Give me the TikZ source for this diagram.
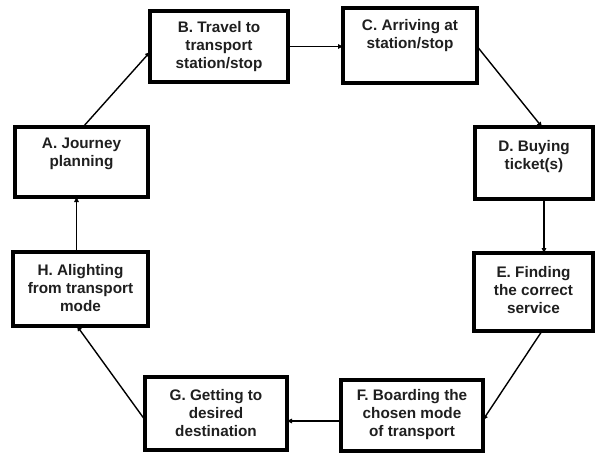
\documentclass[tikz,border=0pt]{standalone}
\usepackage{fontspec}
\setmainfont{Liberation Sans}
\usetikzlibrary{arrows.meta,calc}
\begin{document}
\begin{tikzpicture}[x=1pt,y=-1pt,
  stagebox/.style={draw=black,line width=3.4pt,rectangle,inner sep=0pt,outer sep=0pt},
  stagetext/.style={align=center,text=black!88,font=\fontsize{15.3}{18}\selectfont\bfseries,inner sep=0pt},
  conn/.style={line width=1.4pt,-{Triangle[length=5pt,width=4.5pt]}}]
\useasboundingbox (0,0) rectangle (597,453);
% boxes
\node[stagebox,minimum width=133pt,minimum height=70pt] (A) at (81.5,162) {};
\node[stagebox,minimum width=138pt,minimum height=71pt] (B) at (219,46.5) {};
\node[stagebox,minimum width=134pt,minimum height=75pt] (C) at (410,45.5) {};
\node[stagebox,minimum width=118pt,minimum height=72pt] (D) at (534,163) {};
\node[stagebox,minimum width=119pt,minimum height=78pt] (E) at (533.5,292) {};
\node[stagebox,minimum width=142pt,minimum height=71pt] (F) at (412,415.5) {};
\node[stagebox,minimum width=142pt,minimum height=73pt] (G) at (216,413.5) {};
\node[stagebox,minimum width=135pt,minimum height=74pt] (H) at (80.5,289) {};
% texts
\node[stagetext] (tA) at (81.5,154) {A. Journey\\planning};
\node[stagetext] (tB) at (219,46.5) {B. Travel to\\transport\\station/stop};
\node[stagetext] (tC) at (410,36) {C. Arriving at\\station/stop};
\node[stagetext] (tD) at (534,157) {D. Buying\\ticket(s)};
\node[stagetext] (tE) at (533.5,290) {E. Finding\\the correct\\service};
\node[stagetext] (tF) at (412,415) {F. Boarding the\\chosen mode\\of transport};
\node[stagetext] (tG) at (216,413.5) {G. Getting to\\desired\\destination};
\node[stagetext] (tH) at (80.5,288.5) {H. Alighting\\from transport\\mode};
% connectors
\coordinate (a1) at ([xshift=1.5pt]A.north);
\coordinate (b1) at ([yshift=-5.5pt]B.west);
\draw[conn] (a1) -- (b1);
\draw[conn] (B.east) -- (B.east -| C.west);
\coordinate (c1) at ([xshift=1pt,yshift=-2pt]C.east);
\coordinate (d1) at ([xshift=8pt]D.north);
\draw[conn] (c1) -- (d1);
\coordinate (d2) at ([xshift=10pt]D.south);
\draw[conn] (d2) -- (d2 |- E.north);
\coordinate (e1) at ([xshift=8.5pt]E.south);
\coordinate (f1) at ([yshift=-4.5pt]F.east);
\draw[conn] (e1) -- (f1);
\coordinate (f2) at ([yshift=-5.5pt]F.west);
\draw[conn] (f2) -- (f2 -| G.east);
\coordinate (g1) at ([yshift=-6.5pt]G.west);
\coordinate (h1) at ([xshift=-3.5pt]H.south);
\draw[conn] (g1) -- (h1);
\coordinate (h2) at ([xshift=-4pt]H.north);
\draw[conn] (h2) -- (h2 |- A.south);
\end{tikzpicture}
\end{document}
